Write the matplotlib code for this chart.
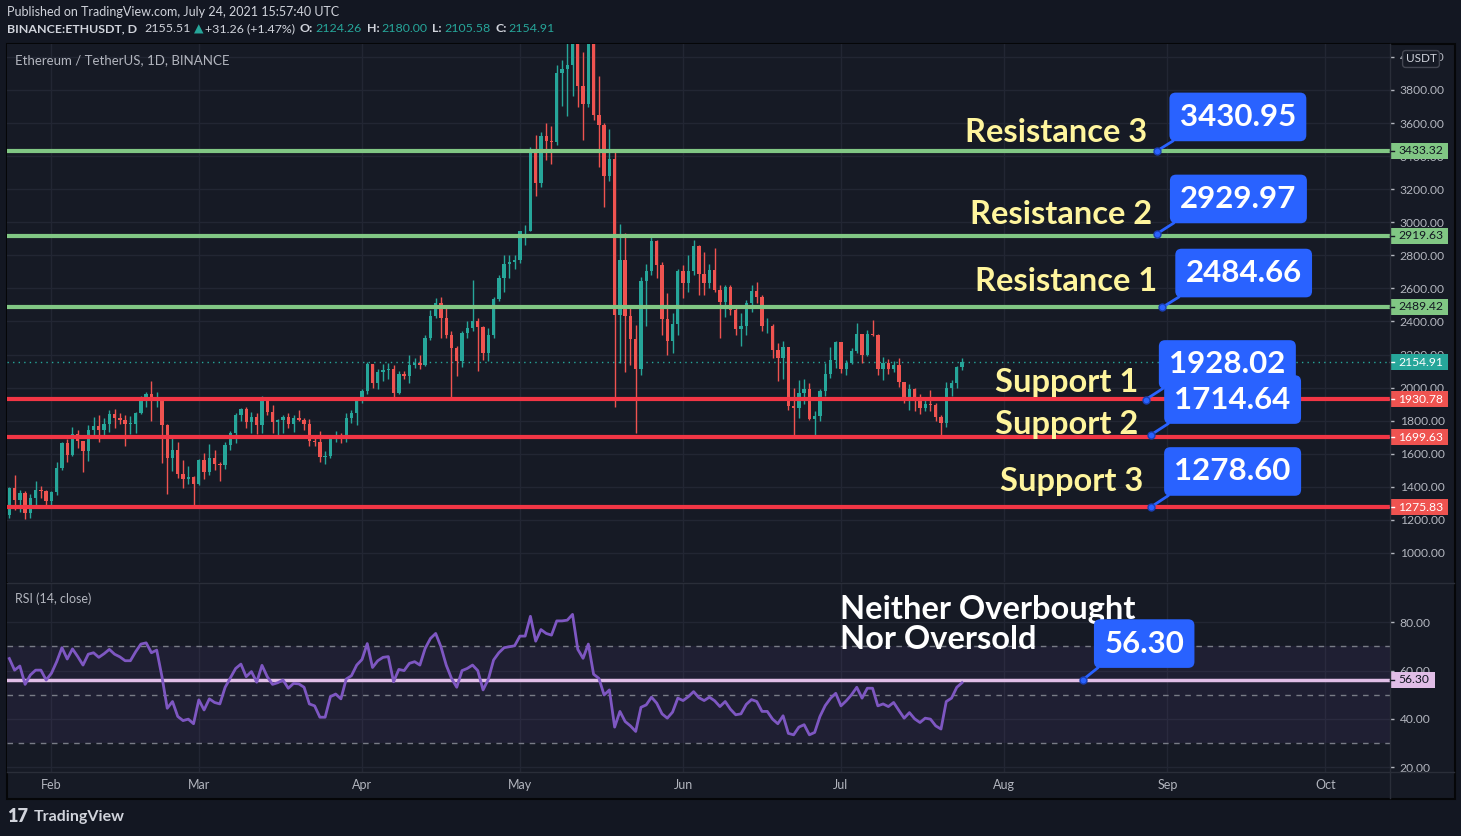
import matplotlib
matplotlib.use('Agg')
import matplotlib.pyplot as plt
from matplotlib.patches import Rectangle
from matplotlib.lines import Line2D
from matplotlib.transforms import blended_transform_factory
import numpy as np
import pandas as pd

plt.rcParams['font.family'] = ['Lato', 'DejaVu Sans']

# ---------------- data (ETHUSDT daily) ----------------
start_date = '2021-01-24'
opens = [1232,1392,1318,1364,1239,1332,1382,1376,1314,1369,
         1514,1664,1594,1718,1677,1614,1746,1768,1744,1783,
         1843,1814,1804,1779,1782,1846,1937,1959,1919,1935,
         1776,1572,1625,1475,1446,1459,1416,1564,1487,1573,
         1539,1533,1653,1726,1834,1870,1794,1825,1771,1924,
         1854,1791,1806,1822,1780,1815,1806,1783,1680,1669,
         1582,1587,1700,1713,1687,1817,1846,1918,1977,2143,
         2028,2093,2108,2115,1967,2082,2068,2136,2151,2139,
         2299,2432,2514,2422,2320,2237,2160,2330,2360,2400,
         2365,2211,2317,2535,2662,2746,2757,2774,2945,2949,
         3432,3240,3524,3491,3484,3903,3928,3952,4168,3825,
         3717,4080,3650,3587,3278,3381,2439,2772,2431,2296,
         2110,2643,2706,2888,2742,2415,2279,2386,2706,2634,
         2706,2855,2688,2630,2714,2593,2515,2610,2472,2354,
         2372,2509,2587,2549,2370,2371,2229,2180,2244,1888,
         1874,1970,1989,1808,1829,1982,2080,2167,2275,2111,
         2149,2220,2323,2196,2324,2316,2115,2146,2111,2139,
         2036,1940,1994,1917,1876,1898,1895,1820,1786,1995,
         2027,2124.26]
highs = [1402,1470,1380,1375,1357,1436,1406,1382,1375,1551,
         1672,1692,1763,1745,1678,1775,1824,1836,1817,1866,
         1872,1848,1836,1830,1854,1951,1975,2041,1975,1938,
         1781,1714,1672,1564,1527,1467,1570,1606,1660,1624,
         1551,1672,1735,1848,1878,1884,1854,1848,1951,1933,
         1896,1812,1836,1848,1836,1866,1818,1812,1703,1739,
         1618,1700,1739,1727,1848,1866,1945,1990,2153,2145,
         2110,2140,2150,2135,2100,2100,2200,2180,2200,2320,
         2468,2545,2548,2497,2340,2250,2340,2400,2648,2420,
         2375,2360,2550,2680,2800,2800,2800,2950,2985,3455,
         3530,3546,3601,3584,3950,3980,4200,4200,4372,4031,
         4130,4140,3882,3600,3563,3440,2990,2934,2480,2380,
         2672,2748,2909,2890,2760,2570,2450,2716,2740,2800,
         2894,2860,2820,2750,2845,2620,2620,2620,2490,2450,
         2530,2620,2641,2560,2420,2385,2270,2280,2245,2000,
         2047,2050,2030,1860,1990,2148,2248,2284,2275,2165,
         2240,2390,2325,2350,2410,2325,2185,2175,2160,2180,
         2036,2020,2000,1960,1925,1986,1905,1835,2036,2045,
         2130,2180.00]
lows = [1214,1262,1245,1204,1214,1291,1331,1281,1271,1353,
        1504,1551,1588,1636,1487,1555,1715,1672,1709,1733,
        1757,1781,1648,1721,1727,1842,1884,1800,1884,1547,
        1354,1496,1455,1394,1418,1279,1410,1449,1473,1503,
        1436,1509,1624,1666,1799,1757,1727,1721,1727,1836,
        1727,1703,1727,1757,1733,1800,1742,1648,1648,1551,
        1540,1576,1672,1666,1672,1787,1775,1906,1960,2000,
        1990,2040,2050,1925,1960,2055,2030,2120,2110,2130,
        2290,2420,2300,2300,1936,2071,2125,2300,2340,2103,
        2170,2160,2300,2525,2580,2660,2720,2755,2860,2945,
        3158,3212,3377,3352,3470,3705,3644,3765,3700,3499,
        3700,3620,3337,3095,3250,1885,2151,2097,2137,1724,
        2078,2373,2680,2660,2320,2200,2210,2320,2540,2580,
        2680,2560,2560,2600,2580,2302,2430,2440,2320,2250,
        2320,2460,2510,2340,2330,2180,2040,2050,1865,1700,
        1815,1900,1805,1714,1800,1950,2060,2120,2089,2075,
        2140,2210,2151,2190,2310,2077,2047,2080,2097,2006,
        1906,1865,1860,1843,1860,1860,1800,1700,1759,1950,
        2000,2105.58]
closes = [1392,1318,1364,1239,1332,1382,1376,1314,1369,1514,
          1664,1594,1718,1677,1614,1746,1768,1744,1783,1843,
          1814,1804,1779,1782,1846,1937,1959,1919,1935,1776,
          1572,1625,1475,1446,1459,1416,1564,1487,1573,1539,
          1533,1653,1726,1834,1870,1794,1825,1771,1924,1854,
          1791,1806,1822,1780,1815,1806,1783,1680,1669,1582,
          1587,1700,1713,1687,1817,1846,1918,1977,2143,2028,
          2093,2108,2115,1967,2082,2068,2136,2151,2139,2299,
          2432,2514,2422,2320,2237,2160,2330,2360,2400,2365,
          2211,2317,2535,2662,2746,2757,2774,2945,2949,3432,
          3240,3524,3491,3484,3903,3928,3952,4168,3825,3717,
          4080,3650,3587,3278,3381,2439,2772,2431,2296,2110,
          2643,2706,2888,2742,2415,2279,2386,2706,2634,2706,
          2855,2688,2630,2714,2593,2515,2610,2472,2354,2372,
          2509,2587,2549,2370,2371,2229,2180,2244,1888,1874,
          1970,1989,1808,1829,1982,2080,2167,2275,2111,2149,
          2220,2323,2196,2324,2316,2115,2146,2111,2139,2036,
          1940,1994,1917,1876,1898,1895,1820,1786,1995,2027,
          2124.26,2154.91]
rsi = [65,60.2,61.9,54.3,58.2,60.2,60.2,56.1,58.9,63.7,
       69.5,64.8,69,65.8,62.3,66.8,67.4,65.5,67,68.8,
       66.8,65.7,64.1,64.1,67.8,71,71.5,67.4,68.5,57.5,
       44.4,47.2,41,39.3,39.9,38,47.9,43.7,48.3,46.8,
       46.2,53.1,57,60.9,62.7,57.5,59.6,55.2,62.2,57.5,
       54.3,55,56.1,52.7,54.7,54.5,53.1,46.2,45.4,40.7,
       40.7,49.2,50.3,48.3,56.5,57.9,62.3,64.6,71.2,61.3,
       64.1,65.5,65.8,55.4,60.5,60,63,63.7,62.3,69.2,
       73.3,75.4,69.9,62.3,56.8,53.1,60,60.9,62.3,60,
       52,56.4,64.4,67.4,69.5,69.9,70.3,74.3,74.3,82.5,
       72.2,77,75.4,74.7,80.6,80.6,80.9,83.3,68.8,65.1,
       71,58.5,56.8,49.9,52,36.6,43.1,38.9,37.1,34.8,
       44.8,45.8,49,46.5,42.1,40.3,42.8,48.6,47.6,49.2,
       51.3,48.8,47.6,49,47.5,45.1,47.2,44,41.7,42.1,
       46,48,47.2,43.1,43.1,39.9,38,41.3,34,33.4,
       36.6,37.6,33.4,34.4,41,45.5,48.5,50.6,45.4,47.5,
       50,53.1,48.6,52.7,52.7,45.4,46.2,45.1,46.8,43.5,
       40.3,42.6,40,38.5,40.3,39.9,37.1,35.8,47.2,48.6,
       53.1,55]

resistance_levels = [3433.32, 2919.63, 2489.42]
support_levels = [1930.78, 1699.63, 1275.83]
last_price = 2154.91
resistance_notes = [('Resistance 3', 3430.95), ('Resistance 2', 2929.97), ('Resistance 1', 2484.66)]
support_notes = [('Support 1', 1928.02), ('Support 2', 1714.64), ('Support 3', 1278.60)]
rsi_level = 56.30
price_ticks = list(range(1000, 4001, 200))
rsi_ticks = [20, 40, 60, 80]

# ---------------- colours ----------------
BG = '#131722'
PANE = '#161a25'
GRID = '#222633'
SEP = '#2a2e39'
TXT = '#b2b5be'
UP = '#26a69a'
DOWN = '#ef5350'
GREEN_LINE = '#81c784'
RED_LINE = '#f23645'
BLUE = '#2962ff'
YELLOW = '#fff59d'

W, H = 1461, 836
def fx(x): return x / W
def fy(y): return 1 - y / H

dates = pd.date_range(start_date, periods=len(closes), freq='D')
x = np.arange(len(closes))
o = np.array(opens); h = np.array(highs); l = np.array(lows); c = np.array(closes)
months = pd.date_range('2021-02-01', '2021-10-01', freq='MS')
month_pos = [(m - dates[0]).days for m in months]
month_lbl = [m.strftime('%b') for m in months]

fig = plt.figure(figsize=(14.61, 8.36), dpi=100, facecolor=BG)
fig.add_artist(Rectangle((fx(6.5), fy(798.5)), 1448 / W, 755 / H, transform=fig.transFigure,
                         fc=PANE, ec='#050608', lw=1.5, zorder=0))

ax1 = fig.add_axes([fx(7), fy(582), 1383 / W, 538 / H])
ax2 = fig.add_axes([fx(7), fy(772), 1383 / W, 189 / H], sharex=ax1)
for ax in (ax1, ax2):
    ax.set_facecolor(PANE)
    for s in ax.spines.values():
        s.set_visible(False)
    ax.set_axisbelow(True)
    ax.grid(True, color=GRID, lw=1)
    ax.yaxis.tick_right()
    ax.set_xticks(month_pos)
    ax.tick_params(axis='y', colors=TXT, labelsize=8.7, length=3, pad=4, width=1)

ax1.set_xlim(-0.44, 262.3)

# ---------------- candles ----------------
cols = np.where(c >= o, UP, DOWN)
ax1.vlines(x, l, h, colors=cols, lw=1, zorder=3)
ax1.bar(x, np.maximum(np.abs(c - o), 5), bottom=np.minimum(o, c), width=0.64,
        color=cols, linewidth=0, zorder=4)

ax1.set_ylim(824.6, 4078)
ax1.set_yticks(price_ticks)
ax1.set_yticklabels(['%.2f' % v for v in price_ticks])
ax1.tick_params(axis='x', labelbottom=False, length=0)

for v in resistance_levels:
    ax1.axhline(v, color=GREEN_LINE, lw=3, zorder=5)
for v in support_levels:
    ax1.axhline(v, color=RED_LINE, lw=3, zorder=5)
ax1.axhline(last_price, color=UP, lw=1, ls=(0, (1, 3)), zorder=2)

def tag(ax, y, text, fc, tc, hh, w=58):
    tr = blended_transform_factory(ax.transAxes, ax.transData)
    ax.add_patch(Rectangle((1.0, y - hh / 2), w / 1383, hh, transform=tr, fc=fc, ec='none',
                           clip_on=False, zorder=10))
    ax.plot([1.0, 1.0 + 4 / 1383], [y, y], transform=tr, color=tc, lw=1, clip_on=False, zorder=11)
    ax.text(1.0 + 8 / 1383, y, text, transform=tr, color=tc, fontsize=8.7, va='center',
            ha='left', clip_on=False, zorder=11)

for v in resistance_levels:
    tag(ax1, v, '%.2f' % v, GREEN_LINE, '#131722', 97)
tag(ax1, last_price, '%.2f' % last_price, UP, 'white', 97)
for v in support_levels:
    tag(ax1, v, '%.2f' % v, DOWN, 'white', 97)

box_style = dict(boxstyle='round,pad=0.33,rounding_size=0.2', fc=BLUE, ec='none')

# text labels + blue price callouts
label_x = [216.1, 217.1, 218.0]
label_y = [3540, 3044, 2639]
box_x = [233.4, 233.5, 234.5]
box_y = [3637, 3141, 2693]
tgt_x = [218.0, 218.0, 219.0]
for k, (name, val) in enumerate(resistance_notes):
    ax1.text(label_x[k], label_y[k], name, color=YELLOW, fontsize=23.5, fontweight='bold',
             ha='right', va='center', zorder=12)
    ax1.annotate('%.2f' % val, xy=(tgt_x[k], val), xytext=(box_x[k], box_y[k]),
                 color='white', fontsize=22.5, fontweight='bold', ha='center', va='center',
                 bbox=box_style,
                 arrowprops=dict(arrowstyle='-', color=BLUE, lw=2, shrinkA=0, shrinkB=0,
                                 relpos=(0.08, 0.0)), zorder=12)
    ax1.plot(tgt_x[k], val, 'o', ms=5, color=BLUE, mec='#1a3fb5', zorder=13)

label_x = [214.4, 214.4, 215.4]
label_y = [2034, 1780, 1435]
box_x = [231.4, 232.4, 232.4]
box_y = [2140, 1928, 1493]
tgt_x = [215.9, 216.9, 216.9]
for k, (name, val) in enumerate(support_notes):
    ax1.text(label_x[k], label_y[k], name, color=YELLOW, fontsize=23.5, fontweight='bold',
             ha='right', va='center', zorder=12)
    ax1.annotate('%.2f' % val, xy=(tgt_x[k], val), xytext=(box_x[k], box_y[k]),
                 color='white', fontsize=22.5, fontweight='bold', ha='center', va='center',
                 bbox=box_style,
                 arrowprops=dict(arrowstyle='-', color=BLUE, lw=2, shrinkA=0, shrinkB=0,
                                 relpos=(0.08, 0.0)), zorder=12)
    ax1.plot(tgt_x[k], val, 'o', ms=5, color=BLUE, mec='#1a3fb5', zorder=13)

ax1.text(8 / 1383, 1 - 16 / 538, 'Ethereum / TetherUS, 1D, BINANCE', transform=ax1.transAxes,
         color=TXT, fontsize=9.5, va='center', ha='left')

# ---------------- RSI pane ----------------
ax2.axhspan(30, 70, color='#7e57c2', alpha=0.09, lw=0, zorder=1)
for v in (70, 50, 30):
    ax2.axhline(v, color='#787b86', lw=1, ls=(0, (4, 4)), zorder=2)
ax2.axhline(rsi_level, color='#e1bee7', lw=2.5, zorder=3)
ax2.plot(x, rsi, color='#7e57c2', lw=2, zorder=4)
ax2.set_ylim(18.0, 96.3)
ax2.set_yticks(rsi_ticks)
ax2.set_yticklabels(['%.2f' % v for v in rsi_ticks])
ax2.set_xticklabels(month_lbl)
ax2.tick_params(axis='x', colors=TXT, labelsize=9, length=0, pad=5)
tag(ax2, rsi_level, '%.2f' % rsi_level, '#e1bee7', '#131722', 6.6, w=45)

ax2.text(157.8, 85.3, 'Neither Overbought', color='white', fontsize=23.5, fontweight='bold',
         ha='left', va='center', zorder=12)
ax2.text(157.8, 73.0, 'Nor Oversold', color='white', fontsize=23.5, fontweight='bold',
         ha='left', va='center', zorder=12)
ax2.annotate('%.2f' % rsi_level, xy=(204.0, rsi_level), xytext=(215.6, 71.2),
             color='white', fontsize=22.5, fontweight='bold', ha='center', va='center',
             bbox=box_style,
             arrowprops=dict(arrowstyle='-', color=BLUE, lw=2, shrinkA=0, shrinkB=0,
                             relpos=(0.08, 0.0)), zorder=12)
ax2.plot(204.0, rsi_level, 'o', ms=5, color=BLUE, mec='#1a3fb5', zorder=13)
ax2.text(8 / 1383, 1 - 16 / 189, 'RSI (14, close)', transform=ax2.transAxes,
         color=TXT, fontsize=9, va='center', ha='left')

# ---------------- separators / frame ----------------
for y0 in (582.5, 772):
    fig.add_artist(Line2D([fx(7), fx(1454)], [fy(y0), fy(y0)], transform=fig.transFigure,
                          color=SEP, lw=1, zorder=5))
fig.add_artist(Line2D([fx(1390), fx(1390)], [fy(44), fy(798)], transform=fig.transFigure,
                      color=SEP, lw=1, zorder=5))
fig.text(fx(1421), fy(59), 'USDT', color='#d1d4dc', fontsize=8.5, ha='center', va='center',
         bbox=dict(boxstyle='round,pad=0.25', fc=PANE, ec='#434651', lw=1), zorder=20)

# ---------------- header / footer ----------------
fig.text(fx(7), fy(12), 'Published on TradingView.com, July 24, 2021 15:57:40 UTC',
         color='#d1d4dc', fontsize=9, va='center')

# second header line: pieces are chained one after another
pieces = [('BINANCE:ETHUSDT, D', 0, 'bold', '#d1d4dc'), ('2155.51', 7, 'normal', '#d1d4dc'),
          ('▲', 3, 'normal', UP), ('+31.26 (+1.47%)', 2, 'normal', '#d1d4dc'),
          ('O:', 5, 'bold', '#d1d4dc'), ('2124.26', 2, 'normal', UP),
          ('H:', 5, 'bold', '#d1d4dc'), ('2180.00', 2, 'normal', UP),
          ('L:', 5, 'bold', '#d1d4dc'), ('2105.58', 2, 'normal', UP),
          ('C:', 5, 'bold', '#d1d4dc'), ('2154.91', 2, 'normal', UP)]
renderer = fig.canvas.get_renderer()
cur = 7
for s, gap, wt, col in pieces:
    cur += gap
    t = fig.text(fx(cur), fy(29), s, color=col, fontsize=8.9, fontweight=wt, va='center')
    cur = t.get_window_extent(renderer).x1

fig.text(fx(7), fy(817), '17', color='#d1d4dc', fontsize=13, fontweight='heavy', va='center')
fig.text(fx(34), fy(817), 'TradingView', color='#d1d4dc', fontsize=11.5, fontweight='bold',
         va='center')

fig.savefig('out.png', dpi=100, facecolor=BG)
